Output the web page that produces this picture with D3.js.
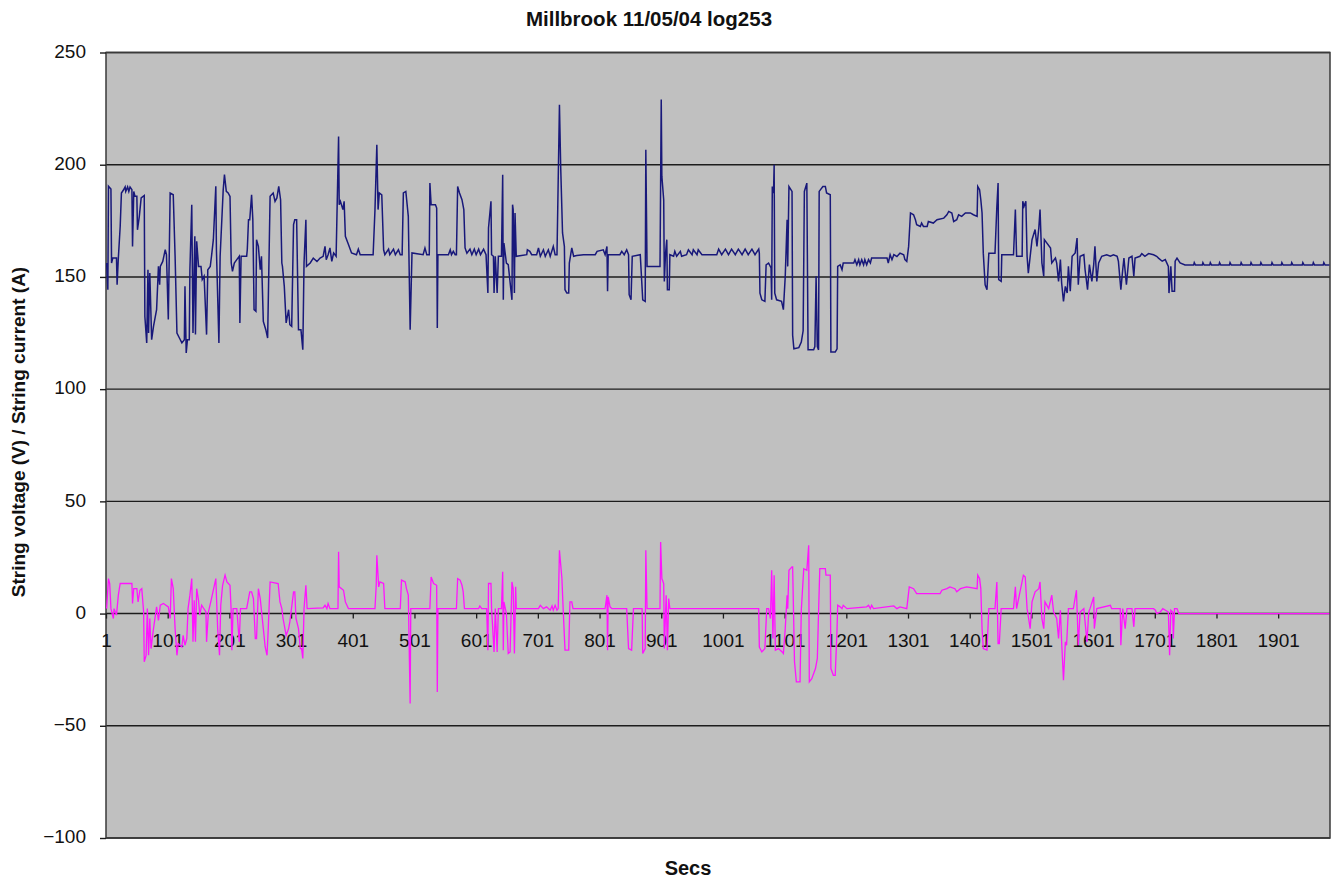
<!DOCTYPE html>
<html>
<head>
<meta charset="utf-8">
<script src="https://cdnjs.cloudflare.com/ajax/libs/d3/7.8.5/d3.min.js"></script>
<style>
  body { margin: 0; background: #fff; }
  text { font-family: "Liberation Sans", Arial, sans-serif; }
</style>
</head>
<body>
<div class="chart"></div>
<script>
/* DATA (secs, value) */

const voltage = [
  [2,156.2],[4,144.3],[5,190.4],[9,189.2],[10,156.2],[12,158.4],[18,158.4],[19,146.5],[21,158.4],[24,172.5],
  [26,187.4],[29,188.6],[32,190.1],[33,188.1],[36,190.1],[38,188.1],[40,190.1],[43,188.9],[44,163.6],[46,188.1],
  [48,185.9],[51,185.9],[52,171.0],[55,177.0],[58,185.2],[63,186.3],[64,132.4],[67,120.6],[69,153.2],[70,125.0],
  [72,151.7],[75,122.0],[78,128.0],[83,135.4],[86,154.7],[88,146.5],[89,154.7],[93,156.9],[97,162.1],[99,159.9],
  [102,131.0],[105,187.4],[110,186.6],[113,159.2],[116,125.0],[120,122.8],[124,120.6],[128,122.0],[129,145.8],[131,116.1],
  [133,122.0],[136,122.0],[137,153.2],[140,182.2],[142,125.0],[144,155.5],[145,168.1],[146,124.3],[148,165.9],[151,154.7],
  [155,154.7],[157,148.8],[160,150.3],[164,124.3],[166,153.2],[170,154.7],[172,159.2],[175,166.6],[179,190.4],[180,162.1],
  [184,120.6],[186,159.2],[189,177.0],[191,188.9],[193,195.6],[196,188.1],[199,187.4],[202,185.9],[204,156.2],[206,152.5],
  [209,156.2],[213,157.7],[217,159.2],[218,129.5],[220,159.2],[229,159.2],[230,162.1],[232,175.5],[234,175.5],[237,186.6],
  [239,175.5],[241,135.4],[244,134.7],[245,166.6],[248,163.6],[251,153.2],[253,159.2],[256,130.2],[260,126.5],[263,122.8],
  [267,185.9],[272,187.4],[275,183.7],[278,185.2],[281,190.4],[284,184.4],[286,156.2],[287,154.7],[290,145.8],[293,129.5],
  [297,135.4],[299,128.7],[302,128.0],[305,173.3],[307,175.5],[310,175.5],[313,126.5],[317,126.5],[320,117.6],[322,156.2],
  [325,175.5],[326,154.7],[332,156.2],[337,158.4],[343,156.9],[348,158.4],[353,159.2],[356,163.6],[358,157.7],[361,159.9],
  [364,162.9],[367,156.9],[370,160.7],[374,159.2],[378,212.6],[379,182.2],[381,183.7],[385,180.0],[387,183.7],[389,168.1],
  [394,164.4],[399,160.7],[407,159.9],[410,162.4],[413,159.9],[434,159.9],[437,180.0],[440,208.9],[442,180.0],[444,187.4],
  [448,186.6],[451,162.1],[453,159.9],[459,162.4],[461,159.9],[467,162.4],[470,159.9],[475,162.1],[478,159.9],[481,159.9],
  [483,187.4],[487,188.1],[491,177.0],[494,126.5],[497,160.7],[515,159.9],[518,162.9],[521,159.9],[525,159.9],[526,191.8],
  [528,182.2],[535,182.2],[537,180.7],[538,127.2],[539,159.9],[556,159.9],[559,162.1],[561,159.9],[564,161.4],[567,159.9],
  [569,159.9],[571,190.3],[574,187.4],[578,184.4],[581,180.0],[583,162.9],[586,160.6],[591,162.4],[594,159.9],[598,162.4],
  [601,159.9],[605,162.4],[608,159.9],[613,162.4],[617,159.9],[620,142.8],[621,171.8],[625,183.7],[626,159.9],[629,159.2],
  [630,142.8],[632,159.2],[635,142.8],[637,159.2],[642,159.2],[644,195.5],[645,139.8],[646,165.1],[650,156.2],[653,155.5],
  [659,139.8],[660,182.2],[661,180.0],[663,142.8],[664,178.5],[666,159.2],[683,159.9],[684,162.1],[688,161.4],[691,159.9],
  [699,159.9],[702,162.9],[705,159.2],[710,162.1],[713,159.2],[718,162.1],[721,159.2],[726,163.6],[729,159.9],[732,159.9],
  [736,226.7],[738,199.2],[741,169.6],[744,163.6],[745,144.3],[748,142.8],[751,142.8],[752,156.2],[756,162.9],[759,159.2],
  [764,159.5],[775,159.9],[794,159.9],[797,161.4],[807,162.1],[810,159.9],[813,163.6],[814,143.6],[815,159.9],[834,159.9],
  [837,161.4],[841,159.9],[845,162.1],[848,159.9],[849,142.1],[852,139.8],[854,159.2],[867,159.9],[871,139.8],[875,139.1],
  [876,206.7],[878,154.7],[899,154.7],[901,229.0],[902,194.8],[905,184.4],[906,148.0],[908,160.6],[910,166.6],[911,144.3],
  [914,144.3],[915,159.9],[921,159.2],[923,161.4],[926,159.2],[932,161.4],[934,159.2],[942,159.9],[945,162.1],[951,159.9],
  [953,162.1],[959,159.9],[961,162.1],[967,159.9],[991,159.9],[994,162.4],[999,159.9],[1005,162.4],[1010,159.9],[1015,162.4],
  [1021,159.9],[1026,162.4],[1032,159.9],[1037,162.4],[1042,159.9],[1048,162.4],[1053,159.9],[1059,162.4],[1060,160.6],[1061,142.8],
  [1064,139.8],[1069,139.1],[1071,155.4],[1075,156.2],[1079,154.0],[1080,139.8],[1081,190.3],[1083,187.4],[1084,200.0],[1085,142.8],
  [1088,139.8],[1096,139.1],[1099,135.4],[1102,150.3],[1105,175.5],[1106,154.7],[1108,190.3],[1113,188.1],[1114,124.0],[1116,118.0],
  [1124,118.5],[1128,121.0],[1131,126.0],[1133,188.1],[1137,191.8],[1139,117.5],[1148,117.5],[1150,119.0],[1152,150.3],[1154,119.0],
  [1156,117.5],[1157,188.1],[1163,190.3],[1167,190.3],[1169,187.4],[1175,186.6],[1176,116.5],[1183,116.5],[1186,118.0],[1187,154.7],
  [1191,155.4],[1194,153.2],[1196,156.2],[1213,156.2],[1215,157.7],[1218,155.4],[1221,157.7],[1223,155.4],[1226,157.7],[1229,155.4],
  [1231,157.7],[1234,155.4],[1237,157.7],[1240,156.2],[1242,158.4],[1267,158.4],[1269,156.2],[1272,159.9],[1275,157.7],[1278,159.9],
  [1283,159.1],[1288,160.6],[1294,159.9],[1296,157.7],[1299,156.9],[1302,163.6],[1305,178.5],[1310,177.7],[1313,175.5],[1315,173.3],
  [1321,172.5],[1323,174.0],[1326,172.5],[1332,172.5],[1334,174.7],[1342,174.0],[1348,175.5],[1359,176.2],[1364,177.7],[1367,179.2],
  [1372,178.5],[1375,174.7],[1380,175.5],[1383,177.7],[1388,177.0],[1394,178.5],[1402,178.5],[1407,177.7],[1413,177.0],[1414,190.3],
  [1417,188.9],[1419,184.4],[1421,178.5],[1423,160.6],[1426,146.5],[1429,144.3],[1432,160.6],[1442,160.6],[1445,181.4],[1447,191.8],
  [1448,148.8],[1452,148.0],[1453,159.9],[1472,159.9],[1475,180.0],[1477,159.2],[1486,159.2],[1487,183.7],[1489,181.4],[1492,183.7],
  [1494,159.2],[1496,151.7],[1502,166.6],[1507,171.1],[1510,163.6],[1513,171.8],[1515,180.0],[1518,156.2],[1521,150.3],[1522,166.6],
  [1532,162.9],[1534,156.2],[1540,158.4],[1542,156.2],[1545,148.0],[1548,157.7],[1550,147.3],[1553,139.1],[1556,145.8],[1559,142.8],
  [1561,154.7],[1564,143.6],[1567,159.2],[1572,160.7],[1575,167.3],[1577,146.5],[1580,159.2],[1586,159.9],[1588,153.2],[1592,144.3],
  [1595,155.5],[1599,148.0],[1602,155.5],[1604,163.6],[1607,148.0],[1610,156.2],[1615,159.2],[1623,159.9],[1629,159.2],[1634,159.9],
  [1640,159.2],[1642,157.0],[1646,144.3],[1649,153.2],[1651,158.4],[1655,146.5],[1659,158.4],[1664,159.2],[1667,150.3],[1669,158.4],
  [1677,159.2],[1680,160.4],[1685,159.2],[1691,160.4],[1699,159.9],[1704,159.2],[1707,158.4],[1713,157.0],[1718,157.7],[1723,154.7],
  [1724,142.8],[1727,154.7],[1729,143.6],[1733,143.6],[1734,157.0],[1737,158.4],[1742,156.2],[1750,155.3],[1764,155.3],[1765,156.4],
  [1767,155.3],[1778,155.3],[1779,156.4],[1781,155.3],[1790,155.3],[1791,156.4],[1793,155.3],[1805,155.3],[1806,156.4],[1808,155.3],
  [1822,155.3],[1823,156.4],[1825,155.3],[1840,155.3],[1841,156.4],[1843,155.3],[1856,155.3],[1857,156.4],[1859,155.3],[1872,155.3],
  [1873,156.4],[1875,155.3],[1890,155.3],[1891,156.4],[1893,155.3],[1906,155.3],[1907,156.4],[1909,155.3],[1922,155.3],[1923,156.4],
  [1925,155.3],[1940,155.3],[1941,156.4],[1943,155.3],[1957,155.3],[1958,156.4],[1960,155.3],[1974,155.3],[1975,156.4],[1977,155.3],
  [1984,155.3]
];

const current = [
  [2,2.2],[5,15.6],[7,13.4],[9,2.2],[13,-2.2],[14,2.2],[18,-0.7],[21,8.2],[24,13.4],[43,13.4],
  [44,4.5],[46,11.1],[51,11.1],[53,5.2],[56,10.4],[59,11.1],[62,0.7],[63,-21.5],[66,-18.6],[68,2.2],
  [70,-18.6],[72,-2.2],[74,-15.6],[78,-6.7],[83,3.0],[86,-3.0],[89,3.7],[94,4.5],[102,3.0],[105,-2.2],
  [107,15.6],[110,11.1],[113,-6.7],[116,-18.6],[118,-13.4],[124,-14.9],[126,-9.7],[129,-14.1],[132,-11.1],[134,2.2],
  [137,8.2],[140,15.6],[142,-12.6],[144,5.9],[146,-12.6],[148,11.1],[151,5.9],[153,-0.7],[156,3.7],[163,0.7],
  [164,-12.6],[167,0.7],[172,6.7],[179,15.6],[182,-6.7],[185,-18.6],[187,3.7],[190,12.6],[194,17.1],[197,14.1],
  [202,12.6],[204,0.7],[205,-16.3],[207,2.2],[213,2.2],[217,-12.6],[219,2.2],[229,2.2],[234,9.7],[237,9.7],
  [240,6.7],[243,-11.1],[245,-11.1],[248,11.1],[251,6.7],[256,-6.7],[259,-14.9],[262,-18.6],[264,-6.7],[267,14.1],
  [280,13.4],[283,5.2],[286,2.2],[288,-2.2],[293,-9.7],[297,-6.7],[299,-3.7],[305,9.7],[307,9.7],[309,-2.2],
  [313,-6.7],[316,-15.6],[318,-15.6],[320,-20.0],[322,2.2],[325,12.6],[327,2.2],[353,2.5],[356,3.7],[359,2.2],
  [361,4.5],[364,2.2],[377,2.2],[378,27.5],[379,11.9],[383,11.1],[386,10.4],[389,5.2],[394,2.2],[437,2.2],
  [439,12.6],[440,26.0],[443,11.9],[445,14.1],[451,13.4],[453,2.2],[478,2.2],[480,14.9],[486,14.1],[488,11.1],
  [491,8.2],[494,-40.1],[495,2.2],[526,2.2],[528,16.3],[532,13.4],[537,12.6],[538,-34.9],[539,2.2],[569,2.2],
  [571,15.6],[575,14.9],[578,12.6],[580,9.7],[582,2.2],[605,2.2],[607,3.4],[610,2.2],[618,2.2],[620,-16.3],
  [621,13.4],[625,13.4],[626,2.2],[630,-17.1],[632,2.2],[635,-17.1],[637,2.2],[642,2.2],[644,18.6],[645,-16.3],
  [646,5.2],[650,0.0],[653,-17.8],[656,-17.1],[659,14.1],[661,11.1],[663,-17.8],[665,11.9],[666,2.2],[702,2.2],
  [705,3.7],[710,2.2],[715,3.0],[721,1.5],[724,3.4],[726,1.5],[729,3.7],[732,1.5],[734,2.2],[736,28.2],
  [740,15.6],[742,2.2],[745,-16.3],[751,-16.3],[753,5.2],[756,5.2],[758,2.2],[810,2.2],[813,8.2],[814,-16.3],
  [815,7.4],[818,3.0],[821,2.2],[845,2.2],[848,-15.6],[853,-16.3],[856,2.2],[870,2.2],[871,-17.8],[875,-15.6],
  [876,28.2],[878,2.2],[899,2.2],[900,31.9],[902,15.6],[905,13.4],[906,-15.6],[909,8.2],[911,-16.3],[913,6.7],
  [915,2.2],[1059,2.2],[1060,-14.9],[1064,-17.1],[1069,-15.6],[1072,2.2],[1075,2.2],[1078,-2.2],[1080,19.3],[1082,-11.1],
  [1084,17.1],[1086,-16.3],[1091,-15.6],[1097,-17.1],[1099,-17.8],[1102,-6.7],[1105,8.2],[1106,2.2],[1108,19.3],[1113,20.8],
  [1114,20.8],[1117,-21.5],[1120,-30.4],[1126,-30.4],[1128,1.5],[1132,20.0],[1137,19.3],[1140,30.4],[1141,-30.4],[1145,-29.0],
  [1151,-24.5],[1154,-20.0],[1156,0.7],[1158,20.0],[1167,20.0],[1168,17.1],[1175,17.1],[1176,-24.5],[1180,-27.5],[1183,-27.5],
  [1186,-6.7],[1187,3.7],[1191,3.0],[1194,2.2],[1196,3.7],[1202,2.2],[1234,3.0],[1237,3.7],[1240,2.2],[1242,3.7],
  [1245,2.2],[1278,3.4],[1283,2.2],[1288,3.0],[1299,2.2],[1303,11.9],[1310,11.1],[1315,8.9],[1353,8.9],[1356,10.4],
  [1364,11.1],[1369,11.9],[1377,11.1],[1380,9.7],[1386,11.1],[1396,11.9],[1413,11.1],[1414,17.1],[1417,15.6],[1419,11.1],
  [1421,-6.7],[1423,-15.6],[1429,-16.3],[1432,2.2],[1442,2.2],[1445,14.1],[1447,-13.4],[1449,-13.4],[1452,2.2],[1472,2.2],
  [1475,11.9],[1477,2.2],[1488,17.1],[1491,16.3],[1494,2.2],[1499,-6.7],[1502,5.2],[1507,9.7],[1513,11.1],[1515,14.1],
  [1518,-2.2],[1521,-6.7],[1523,5.2],[1529,2.2],[1534,8.2],[1537,0.7],[1542,-2.2],[1545,-11.1],[1548,1.5],[1550,-12.6],
  [1553,-29.7],[1556,-12.6],[1558,-14.1],[1561,2.2],[1569,2.2],[1574,10.4],[1577,-14.1],[1580,0.7],[1586,2.2],[1588,-3.7],
  [1591,-12.6],[1594,0.7],[1596,2.2],[1602,7.4],[1603,-6.7],[1607,2.2],[1629,3.7],[1631,2.2],[1645,2.2],[1646,-14.1],
  [1649,2.2],[1653,-6.7],[1656,2.2],[1664,2.2],[1667,-5.9],[1669,2.2],[1699,2.2],[1702,1.5],[1704,0.0],[1710,0.7],
  [1714,2.2],[1723,0.7],[1725,-18.6],[1727,1.5],[1730,0.7],[1731,-11.1],[1733,2.2],[1737,2.2],[1740,0.0],[1984,0.0]
];

const xTicks = [1, 101, 201, 301, 401, 501, 601, 701, 801, 901, 1001, 1101, 1201, 1301, 1401, 1501, 1601, 1701, 1801, 1901];
const yTicks = [-100, -50, 0, 50, 100, 150, 200, 250];

const title = "Millbrook 11/05/04 log253";
const xTitle = "Secs";
const yTitle = "String voltage (V) / String current (A)";

/* CHART */

const width = 1335, height = 884;
const plot = {left: 106, right: 1330, top: 52.5, bottom: 838};

const svg = d3.select(".chart").append("svg")
    .attr("width", width)
    .attr("height", height);

const xScale = d3.scaleLinear()
    .domain([1, 1985])
    .range([plot.left, plot.right]);

const yScale = d3.scaleLinear()
    .domain([-100, 250])
    .range([plot.bottom, plot.top]);

// grey plot area
svg.append("rect")
    .attr("x", plot.left)
    .attr("y", plot.top)
    .attr("width", plot.right - plot.left)
    .attr("height", plot.bottom - plot.top)
    .attr("fill", "#c0c0c0");

// horizontal gridlines
svg.append("g")
    .selectAll("line")
    .data(yTicks)
    .join("line")
    .attr("x1", plot.left)
    .attr("x2", plot.right)
    .attr("y1", d => yScale(d))
    .attr("y2", d => yScale(d))
    .attr("stroke", "#1c1c1c")
    .attr("stroke-width", 1.4);

// plot border
svg.append("rect")
    .attr("x", plot.left)
    .attr("y", plot.top)
    .attr("width", plot.right - plot.left)
    .attr("height", plot.bottom - plot.top)
    .attr("fill", "none")
    .attr("stroke", "#3a3a3a")
    .attr("stroke-width", 1.5);

// y axis
const yAxis = d3.axisLeft(yScale)
    .tickValues(yTicks)
    .tickSize(6)
    .tickPadding(14);

svg.append("g")
    .attr("class", "y-axis")
    .attr("transform", `translate(${plot.left},0)`)
    .call(yAxis)
    .call(g => g.select(".domain").remove())
    .call(g => g.selectAll("line").attr("stroke", "#1c1c1c").attr("stroke-width", 1.4))
    .call(g => g.selectAll("text")
        .attr("font-size", 19)
        .attr("fill", "#111")
        .attr("dy", "0.25em"));

// x axis sits on the zero line
const xAxis = d3.axisBottom(xScale)
    .tickValues(xTicks)
    .tickFormat(d3.format("d"))
    .tickSize(5)
    .tickPadding(15);

svg.append("g")
    .attr("class", "x-axis")
    .attr("transform", `translate(0,${yScale(0)})`)
    .call(xAxis)
    .call(g => g.select(".domain").remove())
    .call(g => g.selectAll("line").attr("stroke", "#1c1c1c").attr("stroke-width", 1.3))
    .call(g => g.selectAll("text")
        .attr("font-size", 19)
        .attr("fill", "#111"));

// series
svg.append("clipPath")
    .attr("id", "plot-clip")
    .append("rect")
    .attr("x", plot.left)
    .attr("y", plot.top)
    .attr("width", plot.right - plot.left)
    .attr("height", plot.bottom - plot.top);

const line = d3.line()
    .x(d => xScale(d[0]))
    .y(d => yScale(d[1]));

svg.append("path")
    .datum(current)
    .attr("clip-path", "url(#plot-clip)")
    .attr("fill", "none")
    .attr("stroke", "#ff14ff")
    .attr("stroke-width", 1.3)
    .attr("d", line);

svg.append("path")
    .datum(voltage)
    .attr("clip-path", "url(#plot-clip)")
    .attr("fill", "none")
    .attr("stroke", "#18187a")
    .attr("stroke-width", 1.5)
    .attr("d", line);

// titles
svg.append("text")
    .attr("x", 649)
    .attr("y", 26)
    .attr("text-anchor", "middle")
    .attr("font-size", 20.5)
    .attr("font-weight", "bold")
    .attr("fill", "#111")
    .text(title);

svg.append("text")
    .attr("x", 688)
    .attr("y", 875)
    .attr("text-anchor", "middle")
    .attr("font-size", 20)
    .attr("font-weight", "bold")
    .attr("fill", "#111")
    .text(xTitle);

svg.append("text")
    .attr("transform", `translate(25,432) rotate(-90)`)
    .attr("text-anchor", "middle")
    .attr("font-size", 19)
    .attr("font-weight", "bold")
    .attr("fill", "#111")
    .text(yTitle);
</script>
</body>
</html>
